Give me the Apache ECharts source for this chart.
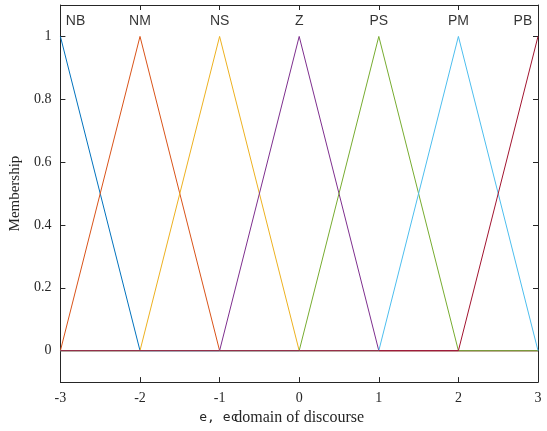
<!DOCTYPE html>
<html lang="en">
<head>
    <meta charset="UTF-8">
    <title>Membership</title>
    <script src="https://cdn.jsdelivr.net/npm/echarts@6/dist/echarts.min.js"></script>
</head>
<body style="margin:0;">
<div id="box" style="width: 547px;height: 431px;"></div>
<script>
    // breakpoints of the domain and membership grades at those points
    var xBreaks = [-3, -2, -1, 0, 1, 2, 3];
    var names = ['NB', 'NM', 'NS', 'Z', 'PS', 'PM', 'PB'];
    var nbY = [1, 0, 0, 0, 0, 0, 0];
    var nmY = [0, 1, 0, 0, 0, 0, 0];
    var nsY = [0, 0, 1, 0, 0, 0, 0];
    var zY  = [0, 0, 0, 1, 0, 0, 0];
    var psY = [0, 0, 0, 0, 1, 0, 0];
    var pmY = [0, 0, 0, 0, 0, 1, 0];
    var pbY = [0, 0, 0, 0, 0, 0, 1];
    var labelX = [-2.81, -2, -1, 0, 1, 2, 2.81];
    var labelY = 1.05;
    var yTicks = [0, 0.2, 0.4, 0.6, 0.8, 1];

    var colors = ['#0072BD', '#D95319', '#EDB120', '#7E2F8E', '#77AC30', '#4DBEEE', '#A2142F'];
    var allY = [nbY, nmY, nsY, zY, psY, pmY, pbY];
    var axisColor = '#262626';
    var serif = '"Liberation Serif", "Times New Roman", serif';

    var myChart = echarts.init(document.getElementById('box'));

    var series = allY.map(function (ys, i) {
        return {
            name: names[i],
            type: 'line',
            symbol: 'none',
            animation: false,
            lineStyle: {color: colors[i], width: 1},
            data: xBreaks.map(function (x, j) { return [x, ys[j]]; })
        };
    });
    series.push({
        type: 'scatter',
        symbolSize: 0,
        silent: true,
        animation: false,
        label: {
            show: true,
            position: 'inside',
            formatter: function (p) { return p.data[2]; },
            fontFamily: '"Liberation Sans", Arial, sans-serif',
            fontSize: 14,
            color: '#000'
        },
        data: names.map(function (n, i) { return [labelX[i], labelY, n]; })
    });

    var line = {onZero: false, lineStyle: {color: axisColor}};
    var option = {
        grid: {left: 58, right: 9, top: 5, bottom: 46},
        xAxis: [{
            type: 'value', min: -3, max: 3, interval: 1,
            axisLine: line,
            axisTick: {inside: true, length: 5, lineStyle: {color: axisColor}},
            splitLine: {show: false},
            axisLabel: {color: axisColor, fontFamily: serif, fontSize: 14, margin: 9},
            name: '{a|e, ec}{b|domain of discourse}',
            nameLocation: 'middle',
            nameGap: 27,
            nameTextStyle: {
                padding: [0, 31, 0, 0],
                rich: {
                    a: {fontFamily: '"DejaVu Sans Mono", monospace', fontSize: 13, color: axisColor, width: 31},
                    b: {fontFamily: serif, fontSize: 16, color: axisColor}
                }
            }
        }, {
            type: 'value', min: -3, max: 3, interval: 1, position: 'top',
            axisLine: line,
            axisTick: {inside: true, length: 5, lineStyle: {color: axisColor}},
            axisLabel: {show: false},
            splitLine: {show: false}
        }],
        yAxis: [{
            type: 'value', min: -0.1, max: 1.1,
            axisLine: {show: true, onZero: false, lineStyle: {color: axisColor}},
            axisTick: {show: true, inside: true, length: 5, customValues: yTicks, lineStyle: {color: axisColor}},
            axisLabel: {color: axisColor, fontFamily: serif, fontSize: 14, margin: 9, customValues: yTicks},
            splitLine: {show: false},
            name: 'Membership',
            nameLocation: 'middle',
            nameGap: 36,
            nameTextStyle: {fontFamily: serif, fontSize: 15, color: axisColor}
        }, {
            type: 'value', min: -0.1, max: 1.1, position: 'right',
            axisLine: {show: true, onZero: false, lineStyle: {color: axisColor}},
            axisTick: {show: true, inside: true, length: 5, customValues: yTicks, lineStyle: {color: axisColor}},
            axisLabel: {show: false},
            splitLine: {show: false}
        }],
        series: series
    };
    myChart.setOption(option);
</script>
</body>
</html>
